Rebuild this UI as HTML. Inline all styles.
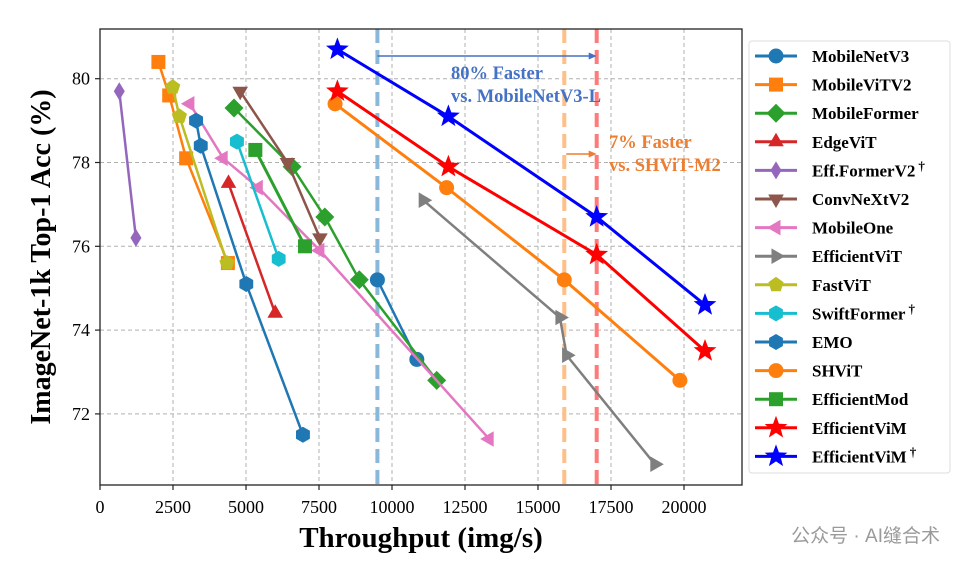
<!DOCTYPE html>
<html><head><meta charset="utf-8">
<style>
html,body{margin:0;padding:0;background:#fff;}
svg{display:block;}
text{font-family:"Liberation Serif",serif;}
</style></head>
<body>
<svg id="chart" width="970" height="570" viewBox="0 0 970 570" xmlns="http://www.w3.org/2000/svg">
<g id="grid"></g>
<g id="refs"></g>
<g id="series"></g>
<rect x="100" y="29" width="642" height="456" fill="none" stroke="#222" stroke-width="1.3"/>
<g id="axes"></g>
<text x="451" y="79" font-size="18.5" font-weight="bold" fill="#4472c4">80% Faster</text>
<text x="451" y="102" font-size="18.5" font-weight="bold" fill="#4472c4">vs. MobileNetV3-L</text>
<text x="609" y="148" font-size="18.5" font-weight="bold" fill="#ed7d31">7% Faster</text>
<text x="609" y="171" font-size="18.5" font-weight="bold" fill="#ed7d31">vs. SHViT-M2</text>
<text x="421" y="547" text-anchor="middle" font-size="29" font-weight="bold">Throughput (img/s)</text>
<text transform="translate(50,257) rotate(-90)" text-anchor="middle" font-size="28" font-weight="bold">ImageNet-1k Top-1 Acc (%)</text>
<g id="legend"></g>
<text x="940" y="542" text-anchor="end" font-size="19" fill="#9a9a9a" style="font-family:'Liberation Sans','Noto Sans CJK SC',sans-serif">公众号 · AI缝合术</text>
</svg>
<script>
const xTicks=[0,2500,5000,7500,10000,12500,15000,17500,20000];
const yTicks=[72,74,76,78,80];
const seriesNames=["MobileNetV3","MobileViTV2","MobileFormer","EdgeViT","Eff.FormerV2","ConvNeXtV2","MobileOne","EfficientViT","FastViT","SwiftFormer","EMO","SHViT","EfficientMod","EfficientViM","EfficientViM"];
const daggers=[false,false,false,false,true,false,false,false,false,true,false,false,false,false,true];
const mobilenetX=[9500,10850];const mobilenetY=[75.2,73.3];
const mobilevitX=[2000,2370,2950,4380];const mobilevitY=[80.4,79.6,78.1,75.6];
const mobileformerX=[4590,6580,7700,8880,11530];const mobileformerY=[79.3,77.9,76.7,75.2,72.8];
const edgevitX=[4400,6000];const edgevitY=[77.5,74.4];
const effformerX=[660,1230];const effformerY=[79.7,76.2];
const convnextX=[4800,6420,7530];const convnextY=[79.7,78.0,76.2];
const mobileoneX=[3080,4220,5420,7530,13330];const mobileoneY=[79.4,78.1,77.4,75.9,71.4];
const efficientvitX=[11070,15750,15980,19000];const efficientvitY=[77.1,74.3,73.4,70.8];
const fastvitX=[2490,2720,4350];const fastvitY=[79.8,79.1,75.6];
const swiftX=[4690,6120];const swiftY=[78.5,75.7];
const emoX=[3290,3450,5010,6950];const emoY=[79.0,78.4,75.1,71.5];
const shvitX=[8050,11870,15900,19860];const shvitY=[79.4,77.4,75.2,72.8];
const effmodX=[5320,7020];const effmodY=[78.3,76.0];
const effvimX=[8130,11930,17010,20720];const effvimY=[79.7,77.9,75.8,73.5];
const effvimdX=[8130,11930,17010,20720];const effvimdY=[80.7,79.1,76.7,74.6];
const refLineX=[9500,15900,17010];

const xs=v=>100+v*0.0292;
const ys=v=>78.7-(v-80)*41.9;
const NS="http://www.w3.org/2000/svg";
function mk(tag,attrs,parent){const e=document.createElementNS(NS,tag);for(const k in attrs)e.setAttribute(k,attrs[k]);parent.appendChild(e);return e;}
const styles=[
 ["#1f77b4","circle"],["#ff7f0e","square"],["#2ca02c","diamond"],["#d62728","tri-up"],["#9467bd","thin-diamond"],
 ["#8c564b","tri-down"],["#e377c2","tri-left"],["#7f7f7f","tri-right"],["#bcbd22","pentagon"],["#17becf","hexagon"],
 ["#1f77b4","hexagon"],["#ff7f0e","circle"],["#2ca02c","square"],["#ff0000","star"],["#0000ff","star"]];
const allX=[mobilenetX,mobilevitX,mobileformerX,edgevitX,effformerX,convnextX,mobileoneX,efficientvitX,fastvitX,swiftX,emoX,shvitX,effmodX,effvimX,effvimdX];
const allY=[mobilenetY,mobilevitY,mobileformerY,edgevitY,effformerY,convnextY,mobileoneY,efficientvitY,fastvitY,swiftY,emoY,shvitY,effmodY,effvimY,effvimdY];
function poly(cx,cy,n,r,rot){let p=[];for(let i=0;i<n;i++){const a=rot+i*2*Math.PI/n;p.push((cx+r*Math.cos(a)).toFixed(1)+","+(cy+r*Math.sin(a)).toFixed(1));}return p.join(" ");}
function marker(shape,cx,cy,color,parent,scale){
 const s=scale||1;let e;
 if(shape==="circle")e=mk("circle",{cx,cy,r:7.5*s},parent);
 else if(shape==="square")e=mk("rect",{x:cx-7*s,y:cy-7*s,width:14*s,height:14*s},parent);
 else if(shape==="diamond")e=mk("polygon",{points:poly(cx,cy,4,9.5*s,-Math.PI/2)},parent);
 else if(shape==="thin-diamond")e=mk("polygon",{points:`${cx},${cy-9*s} ${cx+5.5*s},${cy} ${cx},${cy+9*s} ${cx-5.5*s},${cy}`},parent);
 else if(shape==="tri-up")e=mk("polygon",{points:poly(cx,cy,3,9*s,-Math.PI/2)},parent);
 else if(shape==="tri-down")e=mk("polygon",{points:poly(cx,cy,3,9*s,Math.PI/2)},parent);
 else if(shape==="tri-left")e=mk("polygon",{points:poly(cx,cy,3,9*s,Math.PI)},parent);
 else if(shape==="tri-right")e=mk("polygon",{points:poly(cx,cy,3,9*s,0)},parent);
 else if(shape==="pentagon")e=mk("polygon",{points:poly(cx,cy,5,8*s,-Math.PI/2)},parent);
 else if(shape==="hexagon")e=mk("polygon",{points:poly(cx,cy,6,8*s,-Math.PI/2)},parent);
 else if(shape==="star"){let p=[];for(let i=0;i<10;i++){const r=i%2?5*s:12*s;const a=-Math.PI/2+i*Math.PI/5;p.push((cx+r*Math.cos(a)).toFixed(1)+","+(cy+r*Math.sin(a)).toFixed(1));}e=mk("polygon",{points:p.join(" ")},parent);}
 e.setAttribute("fill",color);
 return e;
}
const grid=document.getElementById("grid"),axes=document.getElementById("axes");
xTicks.forEach(t=>{const x=xs(t);
 if(t>0){const l=mk("line",{x1:x,x2:x,y1:29,y2:485,stroke:"#b0b0b0","stroke-dasharray":"4,3","stroke-width":1},grid);
 
 }
 const tk=mk("line",{x1:x,x2:x,y1:485,y2:490,stroke:"#222","stroke-width":1.2},axes);
 
 
 const tx=mk("text",{x:x,y:513,"text-anchor":"middle","font-size":18},axes);tx.textContent=t;
 
 
});
yTicks.forEach(t=>{const y=ys(t);
 const l=mk("line",{x1:100,x2:742,y1:y,y2:y,stroke:"#b0b0b0","stroke-dasharray":"4,3","stroke-width":1},grid);
 
 
 const tk=mk("line",{x1:95,x2:100,y1:y,y2:y,stroke:"#222","stroke-width":1.2},axes);
 
 
 const tx=mk("text",{x:90,y:y+6,"text-anchor":"end","font-size":18},axes);tx.textContent=t;
 
 
});
const refs=document.getElementById("refs");
const refColors=["#8ab8d8","#ffbf86","#ff7b7b"];
refLineX.forEach((v,i)=>{const l=mk("line",{x1:xs(v),x2:xs(v),y1:29,y2:485,stroke:refColors[i],"stroke-width":4,"stroke-dasharray":"14,7"},refs);
 
 });
function arrow(x1,x2,y,color,name){const g=mk("g",{},refs);
 
 
 mk("line",{x1:x1,x2:x2-6,y1:y,y2:y,stroke:color,"stroke-width":1.5},g);
 mk("polygon",{points:`${x2},${y} ${x2-8},${y-3.5} ${x2-8},${y+3.5}`,fill:color},g);}
arrow(xs(refLineX[0]),xs(refLineX[2]),56,"#4472c4","arrow-80-faster");
arrow(xs(refLineX[1])+2,xs(refLineX[2]),154,"#ed7d31","arrow-7-faster");
const sg=document.getElementById("series");
allX.forEach((X,i)=>{const [c,sh]=styles[i];const g=mk("g",{},sg);
 
 
 const pts=X.map((x,j)=>xs(x)+","+ys(allY[i][j])).join(" ");
 mk("polyline",{points:pts,fill:"none",stroke:c,"stroke-width":(i>=11?3:2.5)},g);
 X.forEach((x,j)=>{const m=marker(sh,xs(x),ys(allY[i][j]),c,g);
  
  });
});
const lg=document.getElementById("legend");
const box=mk("rect",{x:749,y:41,width:201,height:432,rx:3,fill:"#fff",stroke:"#ddd","stroke-width":1},lg);


seriesNames.forEach((n,i)=>{const y=56+i*28.6;const [c,sh]=styles[i];const g=mk("g",{},lg);
 
 
 mk("line",{x1:755,x2:797,y1:y,y2:y,stroke:c,"stroke-width":3},g);
 marker(sh,776,y,c,g);
 const t=mk("text",{x:812,y:y+6,"font-size":17,"font-weight":"bold"},g);t.textContent=n;
 if(daggers[i]){const d=mk("tspan",{dx:3,dy:-6,"font-size":13},t);d.textContent="†";}
});
</script>
</body></html>
